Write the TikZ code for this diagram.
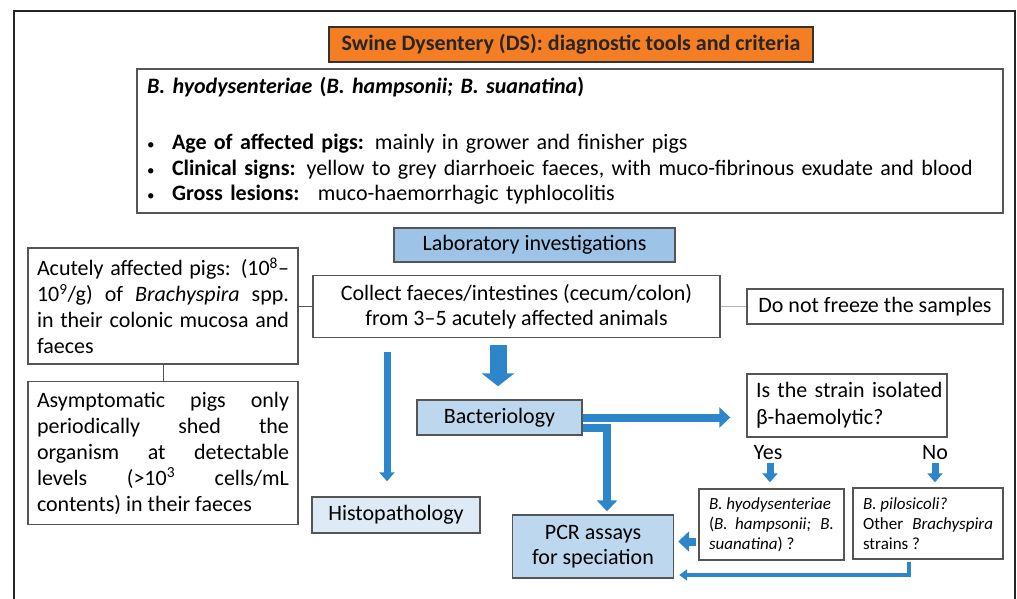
\documentclass[tikz,border=0pt]{standalone}
\usepackage{fontspec}
\setmainfont{Carlito}
\usetikzlibrary{arrows.meta}
\definecolor{dsorange}{RGB}{245,125,35}
\definecolor{dsblue}{RGB}{46,134,202}
\definecolor{labblue}{RGB}{157,195,230}
\definecolor{bactblue}{RGB}{189,215,238}
\definecolor{histblue}{RGB}{222,235,247}
\definecolor{edge}{RGB}{85,85,85}
\tolerance=10000
\hbadness=10000
\hyphenpenalty=10000
\newcommand{\dsbullet}{\makebox[25pt][l]{\fontsize{15}{15}\selectfont\textbullet}}

\begin{document}
\begin{tikzpicture}[x=1pt,y=-1pt,
	box/.style={draw=edge,line width=1.4pt,fill=white,inner sep=0pt,font=\fontsize{22}{25}\selectfont},
	para/.style={box,inner xsep=9pt,text width=#1,align=justify},
	small/.style={box,inner xsep=10pt,text width=#1,align=justify,font=\fontsize{17}{20}\selectfont},
	blockarrow/.style={draw=dsblue,line width=17pt,-{Triangle[width=32pt,length=13pt]}},
	thickarrow/.style={draw=dsblue,line width=8pt,-{Triangle[width=20pt,length=11pt]}},
	thinarrow/.style={draw=dsblue,line width=7pt,-{Triangle[width=15pt,length=9pt]}},
	backarrow/.style={draw=dsblue,line width=4pt,-{Triangle[width=11pt,length=8pt]}},
	link/.style={draw=edge,line width=0.9pt}]
	\useasboundingbox (0,0) rectangle (1017,599);
	\draw[line width=1.8pt,black!85] (14,599) -- (14,11) -- (1015,11) -- (1015,599);

	\node[box,fill=dsorange,draw=black!80,minimum width=484pt,minimum height=35pt,text=black!85] (title) at (571,44.5) {\textbf{Swine Dysentery (DS): diagnostic tools and criteria}};
	\node[box,minimum width=866pt,minimum height=144pt,inner xsep=10pt,text width=846pt,align=left,font=\fontsize{22}{25.5}\selectfont] (info) at (570,141)
		{\textbf{\textit{B. hyodysenteriae} (\textit{B. hampsonii; B. suanatina})}\\[30.5pt]
		\dsbullet\textbf{Age of affected pigs:} mainly in grower and finisher pigs\\
		\dsbullet\textbf{Clinical signs:} yellow to grey diarrhoeic faeces, with muco-fibrinous exudate and blood\\
		\dsbullet\textbf{Gross lesions:} \ muco-haemorrhagic typhlocolitis};
	\node[box,fill=labblue,minimum width=281pt,minimum height=34pt] (lab) at (534.5,245) {Laboratory investigations};

	\node[para=252pt,minimum width=270pt,minimum height=116pt,font=\fontsize{22}{26}\selectfont] (acute) at (163,306)
		{Acutely affected pigs: (10\textsuperscript{8}--\linebreak 10\textsuperscript{9}/g) of \textit{Brachyspira} spp.\linebreak in their colonic mucosa and\linebreak faeces};
	\node[para=252pt,minimum width=270pt,minimum height=143pt,font=\fontsize{22}{26}\selectfont] (asympt) at (163,453)
		{Asymptomatic pigs only\linebreak periodically shed the\linebreak organism at detectable\linebreak levels (>10\textsuperscript{3} cells/mL\linebreak contents) in their faeces};
	\node[box,minimum width=407pt,minimum height=62pt,align=center] (collect) at (516.5,306.5)
		{Collect faeces/intestines (cecum/colon)\\from 3--5 acutely affected animals};
	\node[box,minimum width=256pt,minimum height=35pt] (nofreeze) at (875,306.5) {Do not freeze the samples};

	\node[box,fill=bactblue,minimum width=165pt,minimum height=35pt] (bact) at (499.5,417.5) {Bacteriology};
	\node[box,fill=histblue,minimum width=168pt,minimum height=36pt] (histo) at (396,515) {Histopathology};
	\node[box,inner xsep=9pt,text width=182pt,align=left,minimum width=200pt,minimum height=63pt,font=\fontsize{22}{26.5}\selectfont] (strain) at (847,405.5)
		{\mbox{Is the strain isolated}\\β-haemolytic?};
	\node[font=\fontsize{22}{25}\selectfont,inner sep=0pt] (yes) at (768,453) {Yes};
	\node[font=\fontsize{22}{25}\selectfont,inner sep=0pt] (no) at (935,453) {No};
	\node[small=125pt,minimum width=145pt,minimum height=71pt] (hyo) at (771.5,524.5)
		{\textit{B. hyodysenteriae}\newline (\textit{B. hampsonii; B.}\linebreak \textit{suanatina}) ?};
	\node[small=130pt,minimum width=150pt,minimum height=71pt] (pilo) at (928,523.5)
		{\textit{B. pilosicoli?}\newline Other \textit{Brachyspira}\linebreak strains ?};
	\node[box,fill=bactblue,minimum width=161pt,minimum height=63pt,align=center,font=\fontsize{22}{25}\selectfont] (pcr) at (593,546.5)
		{PCR assays\\for speciation};

	\draw[link] (acute.east) -- (acute.east -| collect.west);
	\draw[link,draw=black!30] (nofreeze.west |- collect.east) -- (collect.east);
	\draw[link] (acute.south) -- (asympt.north);

	\draw[blockarrow,shorten <=7pt,shorten >=13pt] ([xshift=-1.5pt]bact.north |- collect.south) -- ([xshift=-1.5pt]bact.north);
	\draw[thinarrow,shorten <=14pt,shorten >=15pt] ([xshift=-9pt]histo.north |- collect.south) -- ([xshift=-9pt]histo.north);
	\draw[thickarrow,shorten >=16pt] (bact.east) -- (bact.east -| strain.west);
	\draw[thickarrow,shorten >=3pt] ([yshift=-10.5pt]bact.east) -| ([xshift=14pt]pcr.north);
	\draw[thinarrow,shorten <=3pt,shorten >=6pt] ([xshift=2pt]yes.south) -- ([xshift=2pt]yes.south |- hyo.north);
	\draw[thinarrow,shorten <=3pt,shorten >=5pt] (no.south) -- (no.south |- pilo.north);
	\draw[thickarrow,shorten <=2pt,shorten >=4pt] ([yshift=-17pt]hyo.west) -- ([yshift=-17pt]hyo.west -| pcr.east);
	\draw[backarrow,shorten <=2pt,shorten >=5pt] ([xshift=-19pt]pilo.south) |- ([yshift=-28.5pt]pcr.east);
\end{tikzpicture}
\end{document}
